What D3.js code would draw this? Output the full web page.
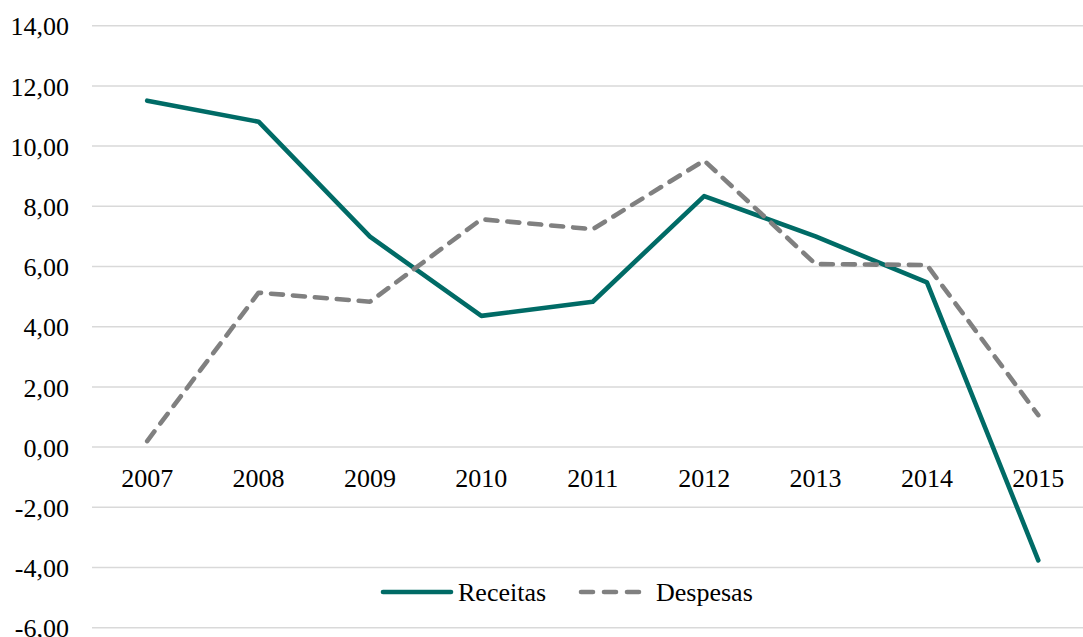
<!DOCTYPE html>
<html>
<head>
<meta charset="utf-8">
<script src="https://cdn.jsdelivr.net/npm/d3@7/dist/d3.min.js"></script>
<style>
  html, body { margin: 0; padding: 0; background: #fff; }
  svg text { font-family: "Liberation Serif", "Times New Roman", "DejaVu Serif", serif; }
</style>
</head>
<body>
<svg id="chart" width="1083" height="637"></svg>
<script>
// Annual variation (%) of revenues and expenses
const years = ["2007", "2008", "2009", "2010", "2011", "2012", "2013", "2014", "2015"];
const receitas = [11.51, 10.81, 6.99, 4.36, 4.83, 8.34, 7.00, 5.47, -3.76];
const despesas = [0.20, 5.13, 4.83, 7.57, 7.24, 9.52, 6.08, 6.05, 1.06];
const yTicks = [-6, -4, -2, 0, 2, 4, 6, 8, 10, 12, 14];

const svg = d3.select("#chart");
const fontSize = 26;
const serif = '"Liberation Serif", "Times New Roman", "DejaVu Serif", serif';

const x = d3.scaleBand().domain(years).range([91.5, 1094]).padding(0);
const y = d3.scaleLinear().domain([-6, 14]).range([627.7, 25.7]);
const fmt = v => d3.format(".2f")(v).replace(".", ",").replace("\u2212", "-");

// horizontal gridlines
svg.append("g")
  .selectAll("line")
  .data(yTicks)
  .join("line")
  .attr("x1", 92).attr("x2", 1083)
  .attr("y1", d => y(d)).attr("y2", d => y(d))
  .attr("stroke", "#d9d9d9").attr("stroke-width", 1.5);

// y axis labels
const yAxis = d3.axisLeft(y).tickValues(yTicks).tickFormat(fmt).tickSize(0).tickPadding(0);
const gy = svg.append("g").attr("transform", "translate(69,0)").call(yAxis);
gy.attr("font-family", null).attr("font-size", null);
gy.select(".domain").remove();
gy.selectAll("text")
  .style("font-family", serif)
  .style("font-size", fontSize + "px").attr("fill", "#000")
  .attr("dy", "0.35em");

// x axis labels sit below the zero line
const xAxis = d3.axisBottom(x).tickSize(0).tickPadding(0);
const gx = svg.append("g").attr("transform", `translate(0,${y(0) + 31})`).call(xAxis);
gx.attr("font-family", null).attr("font-size", null);
gx.select(".domain").remove();
gx.selectAll("text")
  .style("font-family", serif)
  .style("font-size", fontSize + "px").attr("fill", "#000")
  .attr("dy", "0.35em");

const cx = d => x(d) + x.bandwidth() / 2;
const line = d3.line().x(d => cx(d.year)).y(d => y(d.value));

const series = [
  { name: "Receitas", values: receitas, color: "#006b66", dash: null },
  { name: "Despesas", values: despesas, color: "#808080", dash: "12,10" }
];

series.forEach(s => {
  svg.append("path")
    .datum(years.map((yr, i) => ({ year: yr, value: s.values[i] })))
    .attr("d", line)
    .attr("fill", "none")
    .attr("stroke", s.color)
    .attr("stroke-width", 4.6)
    .attr("stroke-linecap", "round")
    .attr("stroke-linejoin", "round")
    .attr("stroke-dasharray", s.dash);
});

// legend
const legendY = 592;
const legend = [
  { s: series[0], x1: 383, x2: 451, tx: 458 },
  { s: series[1], x1: 581, x2: 641, tx: 656 }
];
legend.forEach(l => {
  svg.append("line")
    .attr("x1", l.x1).attr("x2", l.x2)
    .attr("y1", legendY).attr("y2", legendY)
    .attr("stroke", l.s.color).attr("stroke-width", 4.6)
    .attr("stroke-linecap", "round")
    .attr("stroke-dasharray", l.s.dash ? "12,11" : null);
  svg.append("text")
    .attr("x", l.tx).attr("y", legendY)
    .attr("dy", "0.35em")
    .style("font-family", serif)
    .style("font-size", fontSize + "px").attr("fill", "#000")
    .text(l.s.name);
});
</script>
</body>
</html>
